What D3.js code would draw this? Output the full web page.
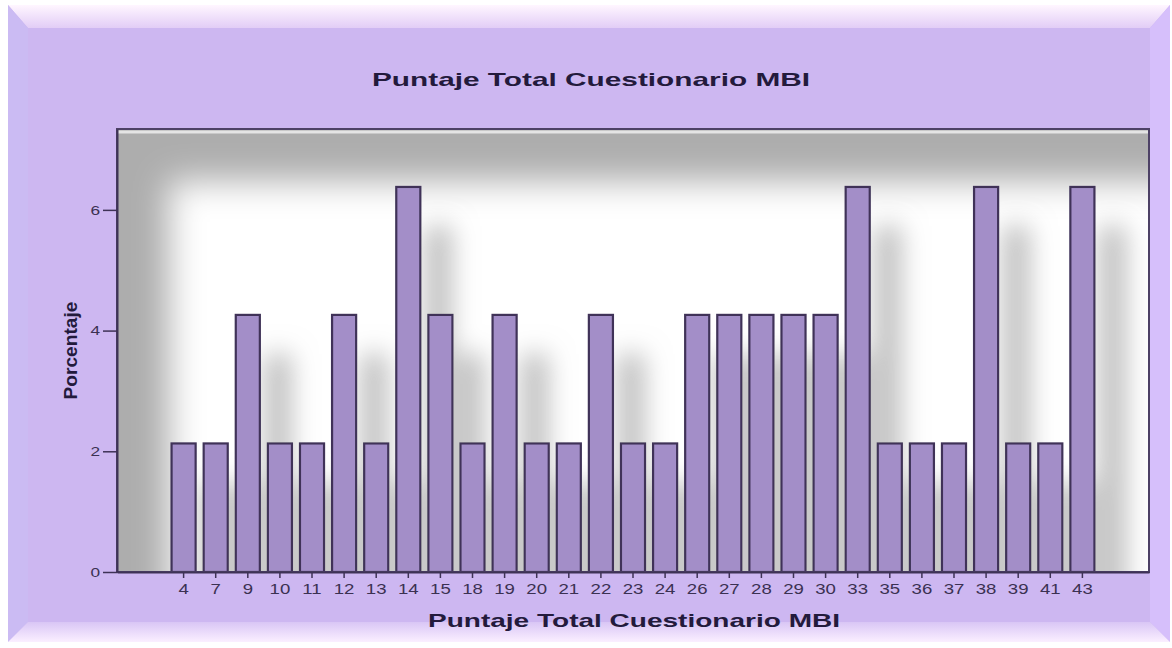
<!DOCTYPE html>
<html>
<head>
<meta charset="utf-8">
<script src="https://cdn.jsdelivr.net/npm/d3@7"></script>
<style>
  html, body { margin: 0; padding: 0; background: #fff; }
  svg { display: block; }
  text { font-family: "Liberation Sans", Arial, sans-serif; }
</style>
</head>
<body>
<div id="chart"></div>
<script>
// Puntaje total MBI -> porcentaje (47 casos)
var categories = ["4","7","9","10","11","12","13","14","15","18","19","20","21","22","23",
                  "24","26","27","28","29","30","33","35","36","37","38","39","41","43"];
var percentages = [2.13,2.13,4.26,2.13,2.13,4.26,2.13,6.38,4.26,2.13,4.26,2.13,2.13,4.26,2.13,
                   2.13,4.26,4.26,4.26,4.26,4.26,6.38,2.13,2.13,2.13,6.38,2.13,2.13,6.38];
var yTicks = [0, 2, 4, 6];
var title = "Puntaje Total Cuestionario MBI";
var xTitle = "Puntaje Total Cuestionario MBI";
var yTitle = "Porcentaje";

var W = 1172, H = 648;
var svg = d3.select("#chart").append("svg").attr("width", W).attr("height", H);
var defs = svg.append("defs");

// --- outer bevelled frame ---
var fr = {x0: 8, y0: 5, x1: 1170, y1: 642, b: 20};
var gTop = defs.append("linearGradient").attr("id", "gTop").attr("x1", 0).attr("y1", 0).attr("x2", 0).attr("y2", 1);
gTop.append("stop").attr("offset", 0).attr("stop-color", "#fff6ff");
gTop.append("stop").attr("offset", 1).attr("stop-color", "#e2cdf6");
var gBot = defs.append("linearGradient").attr("id", "gBot").attr("x1", 0).attr("y1", 0).attr("x2", 0).attr("y2", 1);
gBot.append("stop").attr("offset", 0).attr("stop-color", "#d9c6f5");
gBot.append("stop").attr("offset", 1).attr("stop-color", "#fbefff");

svg.append("rect").attr("x", fr.x0).attr("y", fr.y0)
  .attr("width", fr.x1 - fr.x0).attr("height", fr.y1 - fr.y0).attr("fill", "#cdb7f1");
function poly(pts, fill) {
  svg.append("polygon").attr("points", pts.map(function(p) { return p.join(","); }).join(" ")).attr("fill", fill);
}
poly([[fr.x0, fr.y0], [fr.x1, fr.y0], [fr.x1 - fr.b, fr.y0 + 23], [fr.x0 + fr.b, fr.y0 + 23]], "url(#gTop)");
poly([[fr.x0, fr.y0], [fr.x0 + fr.b, fr.y0 + 23], [fr.x0 + fr.b, fr.y1 - fr.b], [fr.x0, fr.y1]], "#cbbbf3");
poly([[fr.x1, fr.y0], [fr.x1, fr.y1], [fr.x1 - fr.b, fr.y1 - fr.b], [fr.x1 - fr.b, fr.y0 + 23]], "#d6bffb");
poly([[fr.x0, fr.y1], [fr.x0 + fr.b, fr.y1 - fr.b], [fr.x1 - fr.b, fr.y1 - fr.b], [fr.x1, fr.y1]], "url(#gBot)");

// --- plot area ---
var plot = {left: 117, top: 129, right: 1149, bottom: 572};
var pw = plot.right - plot.left, ph = plot.bottom - plot.top;

var x = d3.scaleBand().domain(categories)
  .range([plot.left, plot.right]).paddingInner(0.25).paddingOuter(1.7);
var y = d3.scaleLinear().domain([0, 7.34]).range([plot.bottom, plot.top]);

defs.append("clipPath").attr("id", "plotClip").append("rect")
  .attr("x", plot.left).attr("y", plot.top).attr("width", pw).attr("height", ph);
defs.append("filter").attr("id", "soft").attr("x", "-20%").attr("y", "-30%").attr("width", "140%").attr("height", "160%")
  .append("feGaussianBlur").attr("stdDeviation", 17);
var sh = defs.append("filter").attr("id", "barShadow").attr("x", "-10%").attr("y", "-20%").attr("width", "130%").attr("height", "150%");
sh.append("feDropShadow").attr("dx", 30).attr("dy", 40).attr("stdDeviation", 13)
  .attr("flood-color", "#a0a0a0").attr("flood-opacity", 0.7);

var clipped = svg.append("g").attr("clip-path", "url(#plotClip)");
clipped.append("rect").attr("x", plot.left).attr("y", plot.top).attr("width", pw).attr("height", ph).attr("fill", "#adadad");
clipped.append("rect").attr("x", plot.left + 52).attr("y", plot.top + 52)
  .attr("width", pw + 40).attr("height", ph + 40).attr("fill", "#ffffff").attr("filter", "url(#soft)");
clipped.append("line").attr("x1", plot.left).attr("x2", plot.right)
  .attr("y1", plot.top + 3).attr("y2", plot.top + 3).attr("stroke", "#e4e4e4").attr("stroke-width", 3);

// bars
clipped.append("g").attr("filter", "url(#barShadow)")
  .selectAll("rect").data(percentages).enter().append("rect")
  .attr("x", function(d, i) { return x(categories[i]); })
  .attr("y", function(d) { return y(d); })
  .attr("width", x.bandwidth())
  .attr("height", function(d) { return y(0) - y(d); })
  .attr("fill", "#a38ec8")
  .attr("stroke", "#3f3358")
  .attr("stroke-width", 2.2);

// frame
svg.append("rect").attr("x", plot.left).attr("y", plot.top).attr("width", pw).attr("height", ph)
  .attr("fill", "none").attr("stroke", "#4d4166").attr("stroke-width", 2);

// axes
var stretch = 1.33;
var yAxis = svg.append("g").attr("transform", "translate(" + plot.left + ",0)")
  .call(d3.axisLeft(y).tickValues(yTicks).tickSize(14).tickSizeOuter(0).tickPadding(3).tickFormat(d3.format("d")));
var xAxis = svg.append("g").attr("transform", "translate(0," + plot.bottom + ")")
  .call(d3.axisBottom(x).tickSize(6).tickSizeOuter(0).tickPadding(6));
[yAxis, xAxis].forEach(function(a) {
  a.select(".domain").attr("stroke", "#3e3256").attr("stroke-width", 2);
  a.selectAll(".tick line").attr("stroke", "#3e3256").attr("stroke-width", 1.5);
  a.selectAll(".tick text").attr("fill", "#3b3152")
    .style("font-family", "'Liberation Sans', Arial, sans-serif");
});
yAxis.selectAll(".tick text").style("font-size", "13px")
  .attr("transform", function() { return "translate(-17,0) scale(" + stretch + ",1)"; })
  .attr("x", 0).attr("text-anchor", "end");
xAxis.selectAll(".tick text").style("font-size", "14px")
  .attr("transform", "scale(" + stretch + ",1)");

// titles
svg.append("text").attr("x", 591).attr("y", 86).attr("text-anchor", "middle")
  .attr("textLength", 438).attr("lengthAdjust", "spacingAndGlyphs")
  .style("font-size", "19px").style("font-weight", "bold").attr("fill", "#231a3c").text(title);
svg.append("text").attr("x", 634).attr("y", 627).attr("text-anchor", "middle")
  .attr("textLength", 412).attr("lengthAdjust", "spacingAndGlyphs")
  .style("font-size", "19px").style("font-weight", "bold").attr("fill", "#231a3c").text(xTitle);
svg.append("text").attr("transform", "translate(77," + ((plot.top + plot.bottom) / 2) + ") rotate(-90)")
  .attr("text-anchor", "middle").attr("textLength", 98).attr("lengthAdjust", "spacingAndGlyphs")
  .style("font-size", "18px").style("font-weight", "bold").attr("fill", "#231a3c").text(yTitle);
</script>
</body>
</html>
